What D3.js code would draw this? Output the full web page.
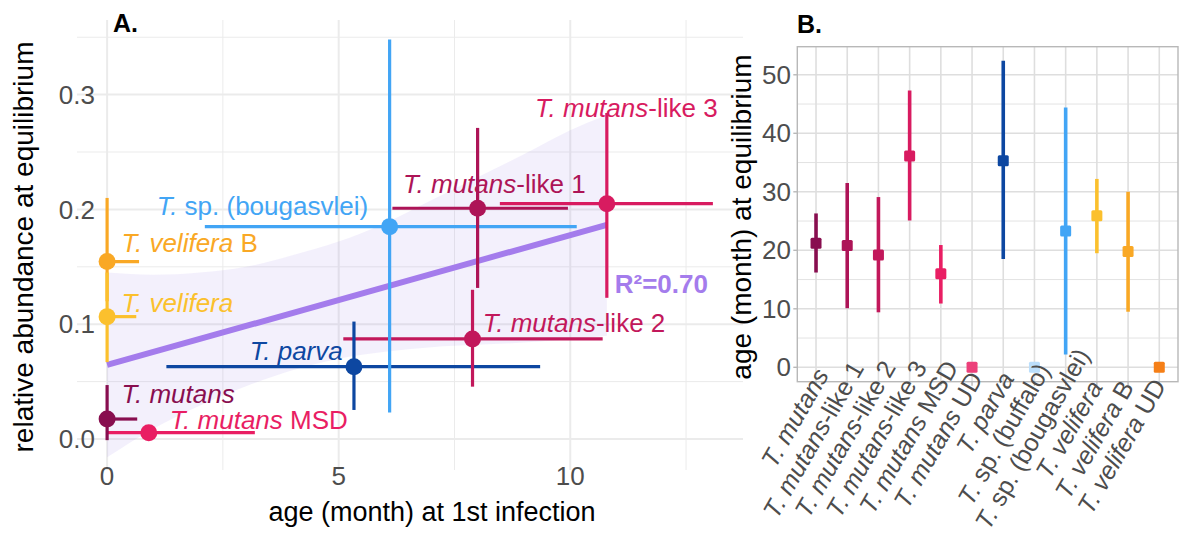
<!DOCTYPE html>
<html>
<head>
<meta charset="utf-8">
<script src="https://cdn.jsdelivr.net/npm/d3@7"></script>
<style>
  html, body { margin: 0; padding: 0; background: #fff; }
  svg { display: block; font-family: "Liberation Sans", Arial, Helvetica, sans-serif; }
</style>
</head>
<body>
<svg id="chart" width="1179" height="535"></svg>
<script>
// ---------------- Panel A data ----------------
const speciesItalicA = ["T. mutans", "T. mutans", "T. velifera", "T. velifera", "T.", "T. mutans", "T. mutans", "T. mutans", "T. parva"];
const speciesRestA   = ["", " MSD", " B", "", " sp. (bougasvlei)", "-like 1", "-like 3", "-like 2", ""];
const colorsA = ["#880E4F", "#E91E63", "#F9A825", "#FBC02D", "#42A5F5", "#AD1457", "#D81B60", "#C2185B", "#0D47A1"];
const ageInf   = [0, 0.9, 0, 0, 6.1, 8.0, 10.79, 7.89, 5.33];
const ageInfLo = [0, 0, 0, 0, 2.11, 6.16, 8.48, 5.1, 1.28];
const ageInfHi = [0.65, 3.19, 0.69, 0.63, 10.14, 9.95, 13.08, 10.7, 9.35];
const abund    = [0.0174, 0.0055, 0.1546, 0.1066, 0.185, 0.201, 0.205, 0.0872, 0.063];
const abundLo  = [-0.001, 0.0, 0.12, 0.067, 0.023, 0.1316, 0.123, 0.0456, 0.0253];
const abundHi  = [0.047, 0.011, 0.21, 0.145, 0.348, 0.271, 0.284, 0.13, 0.1023];
const labelX   = [0.31, 1.35, 0.31, 0.31, 1.07, 6.39, 9.24, 8.11, 3.08];
const labelY   = [0.0314, 0.0087, 0.1633, 0.111, 0.1953, 0.2145, 0.2807, 0.0933, 0.0689];
// regression fit and confidence band
const fitX  = [0, 10.79];
const fitY  = [0.0645, 0.1866];
const bandX  = [0, 1, 2, 3, 4, 5, 6, 7, 8, 9, 10, 10.79];
const bandLo = [-0.016, 0.009, 0.029, 0.046, 0.060, 0.070, 0.076, 0.080, 0.082, 0.084, 0.087, 0.090];
const bandHi = [0.145, 0.143, 0.145, 0.150, 0.160, 0.172, 0.188, 0.208, 0.228, 0.248, 0.269, 0.282];
const r2Label = "R²=0.70";
const r2Pos = [10.96, 0.1273];
const xTicksA = [0, 5, 10];
const xMinorA = [2.5, 7.5, 12.5];
const yTicksA = [0.0, 0.1, 0.2, 0.3];
const yMinorA = [0.05, 0.15, 0.25, 0.35];

// ---------------- Panel B data ----------------
const catItalicB = ["T. mutans", "T. mutans", "T. mutans", "T. mutans", "T. mutans", "T. mutans", "T. parva", "T.", "T.", "T. velifera", "T. velifera", "T. velifera"];
const catRestB   = ["", "-like 1", "-like 2", "-like 3", " MSD", " UD", "", " sp. (buffalo)", " sp. (bougasvlei)", "", " B", " UD"];
const colorsB = ["#880E4F", "#AD1457", "#C2185B", "#D81B60", "#E91E63", "#EC407A", "#0D47A1", "#BBDEFB", "#42A5F5", "#FBC02D", "#F9A825", "#F57F17"];
const medB = [21.2, 20.8, 19.2, 36.1, 16.0, 0, 35.3, 0, 23.3, 25.9, 19.8, 0];
const loB  = [16.2, 10.1, 9.4, 25.1, 10.9, null, 18.5, null, 2.2, 19.5, 9.5, null];
const hiB  = [26.3, 31.5, 29.1, 47.3, 20.9, null, 52.4, null, 44.4, 32.2, 30.0, null];
const yTicksB = [0, 10, 20, 30, 40, 50];
const yMinorB = [5, 15, 25, 35, 45];
// style: shift of each rotated category label along its own baseline (px)
const labelShiftB = [14, 22, 23, 23, 23, 10, 10, 20, 37, 0, 0, 2];

// ---------------- Drawing ----------------
const svg = d3.select("#chart");
const tickColor = "#4D4D4D";

// ===== Panel A =====
const A = { left: 77, right: 743, top: 20, bottom: 470 };
const xA = d3.scaleLinear().domain([-0.65, 13.73]).range([A.left, A.right]);
const yA = d3.scaleLinear().domain([-0.027, 0.365]).range([A.bottom, A.top]);
const gA = svg.append("g");

// grid
gA.selectAll(".gxmin").data(xMinorA).join("line")
  .attr("x1", d => xA(d)).attr("x2", d => xA(d)).attr("y1", A.top).attr("y2", A.bottom)
  .attr("stroke", "#EBEBEB").attr("stroke-width", 1);
gA.selectAll(".gymin").data(yMinorA).join("line")
  .attr("y1", d => yA(d)).attr("y2", d => yA(d)).attr("x1", A.left).attr("x2", A.right)
  .attr("stroke", "#EBEBEB").attr("stroke-width", 1);
gA.selectAll(".gx").data(xTicksA).join("line")
  .attr("x1", d => xA(d)).attr("x2", d => xA(d)).attr("y1", A.top).attr("y2", A.bottom)
  .attr("stroke", "#EBEBEB").attr("stroke-width", 2);
gA.selectAll(".gy").data(yTicksA).join("line")
  .attr("y1", d => yA(d)).attr("y2", d => yA(d)).attr("x1", A.left).attr("x2", A.right)
  .attr("stroke", "#EBEBEB").attr("stroke-width", 2);

// band
const bandData = bandX.map((x, i) => ({ x, lo: bandLo[i], hi: bandHi[i] }));
gA.append("path").datum(bandData)
  .attr("d", d3.area().x(d => xA(d.x)).y0(d => yA(d.lo)).y1(d => yA(d.hi)).curve(d3.curveMonotoneX))
  .attr("fill", "rgba(150,120,230,0.11)");

// regression line
gA.append("path").datum(fitX.map((x, i) => ({ x, y: fitY[i] })))
  .attr("d", d3.line().x(d => xA(d.x)).y(d => yA(d.y)))
  .attr("stroke", "#A47CEC").attr("stroke-width", 6).attr("fill", "none");

const idxA = d3.range(speciesItalicA.length);
// horizontal error bars
gA.selectAll(".hbar").data(idxA).join("line")
  .attr("x1", i => xA(ageInfLo[i])).attr("x2", i => xA(ageInfHi[i]))
  .attr("y1", i => yA(abund[i])).attr("y2", i => yA(abund[i]))
  .attr("stroke", i => colorsA[i]).attr("stroke-width", 3.2);
// vertical error bars
gA.selectAll(".vbar").data(idxA).join("line")
  .attr("x1", i => xA(ageInf[i])).attr("x2", i => xA(ageInf[i]))
  .attr("y1", i => yA(abundLo[i])).attr("y2", i => yA(abundHi[i]))
  .attr("stroke", i => colorsA[i]).attr("stroke-width", 3.2);
// points
gA.selectAll(".pt").data(idxA).join("circle")
  .attr("cx", i => xA(ageInf[i])).attr("cy", i => yA(abund[i])).attr("r", 8.5)
  .attr("fill", i => colorsA[i]);
// labels
const labs = gA.selectAll(".lab").data(idxA).join("text")
  .attr("x", i => xA(labelX[i])).attr("y", i => yA(labelY[i]))
  .attr("font-size", 26).attr("fill", i => colorsA[i]);
labs.append("tspan").attr("font-style", "italic").text(i => speciesItalicA[i]);
labs.append("tspan").text(i => speciesRestA[i]);

gA.append("text").attr("x", xA(r2Pos[0])).attr("y", yA(r2Pos[1]))
  .attr("font-size", 26).attr("font-weight", "bold").attr("fill", "#A47CEC").text(r2Label);

// axes tick labels
gA.selectAll(".xt").data(xTicksA).join("text")
  .attr("x", d => xA(d)).attr("y", 485).attr("text-anchor", "middle")
  .attr("font-size", 26).attr("fill", tickColor).text(d => d3.format("d")(d));
gA.selectAll(".yt").data(yTicksA).join("text")
  .attr("x", 95).attr("y", d => yA(d)).attr("dy", "0.35em").attr("text-anchor", "end")
  .attr("font-size", 26).attr("fill", tickColor).text(d => d3.format(".1f")(d));

// titles
svg.append("text").attr("x", 432).attr("y", 521).attr("text-anchor", "middle")
  .attr("font-size", 27).attr("fill", "#000").text("age (month) at 1st infection");
svg.append("text").attr("transform", "translate(33,247) rotate(-90)").attr("text-anchor", "middle")
  .attr("font-size", 28).attr("fill", "#000").text("relative abundance at equilibrium");
svg.append("text").attr("x", 113).attr("y", 32).attr("font-size", 25).attr("font-weight", "bold")
  .attr("fill", "#000").text("A.");

// ===== Panel B =====
const B = { left: 797.3, right: 1178, top: 46.7, bottom: 381.7 };
const catKeys = d3.range(catItalicB.length);
const xB = d3.scalePoint().domain(catKeys).range([B.left, B.right]).padding(0.6);
const yB = d3.scaleLinear().domain([-2.46, 54.8]).range([B.bottom, B.top]);
const gB = svg.append("g");

gB.selectAll(".gbmin").data(yMinorB).join("line")
  .attr("x1", B.left).attr("x2", B.right).attr("y1", d => yB(d)).attr("y2", d => yB(d))
  .attr("stroke", "#E3E3E3").attr("stroke-width", 1);
gB.selectAll(".gby").data(yTicksB).join("line")
  .attr("x1", B.left).attr("x2", B.right).attr("y1", d => yB(d)).attr("y2", d => yB(d))
  .attr("stroke", "#DEDEDE").attr("stroke-width", 1.6);
gB.selectAll(".gbx").data(catKeys).join("line")
  .attr("x1", d => xB(d)).attr("x2", d => xB(d)).attr("y1", B.top).attr("y2", B.bottom)
  .attr("stroke", "#DEDEDE").attr("stroke-width", 1.6);
gB.append("rect").attr("x", B.left).attr("y", B.top)
  .attr("width", B.right - B.left).attr("height", B.bottom - B.top)
  .attr("fill", "none").attr("stroke", "#B8B8B8").attr("stroke-width", 1.4);

// ticks
gB.selectAll(".tby").data(yTicksB).join("line")
  .attr("x1", B.left - 4).attr("x2", B.left).attr("y1", d => yB(d)).attr("y2", d => yB(d))
  .attr("stroke", "#B8B8B8").attr("stroke-width", 1.4);
gB.selectAll(".tbx").data(catKeys).join("line")
  .attr("x1", d => xB(d)).attr("x2", d => xB(d)).attr("y1", B.bottom).attr("y2", B.bottom + 4)
  .attr("stroke", "#B8B8B8").attr("stroke-width", 1.4);

// ranges
const withRange = catKeys.filter(i => loB[i] !== null);
gB.selectAll(".rng").data(withRange).join("line")
  .attr("x1", i => xB(i)).attr("x2", i => xB(i))
  .attr("y1", i => yB(loB[i])).attr("y2", i => yB(hiB[i]))
  .attr("stroke", i => colorsB[i]).attr("stroke-width", 3.6);
gB.selectAll(".sq").data(catKeys).join("rect")
  .attr("x", i => xB(i) - 5.5).attr("y", i => yB(medB[i]) - 5.5)
  .attr("width", 11).attr("height", 11).attr("rx", 1.5)
  .attr("fill", i => colorsB[i]);

// tick labels
gB.selectAll(".ybt").data(yTicksB).join("text")
  .attr("x", 791).attr("y", d => yB(d)).attr("dy", "0.35em").attr("text-anchor", "end")
  .attr("font-size", 26).attr("fill", tickColor).text(d => d);
const xl = gB.selectAll(".xbt").data(catKeys).join("text")
  .attr("transform", i => `translate(${xB(i) - 1},${B.bottom + 1}) rotate(-60)`)
  .attr("x", i => labelShiftB[i])
  .attr("text-anchor", "end").attr("dy", "0.35em")
  .attr("font-size", 25).attr("fill", tickColor);
xl.append("tspan").attr("font-style", "italic").text(i => catItalicB[i]);
xl.append("tspan").text(i => catRestB[i]);

svg.append("text").attr("transform", "translate(751,217) rotate(-90)").attr("text-anchor", "middle")
  .attr("font-size", 28).attr("fill", "#000").text("age (month) at equilibrium");
svg.append("text").attr("x", 797).attr("y", 33).attr("font-size", 25).attr("font-weight", "bold")
  .attr("fill", "#000").text("B.");
</script>
</body>
</html>
